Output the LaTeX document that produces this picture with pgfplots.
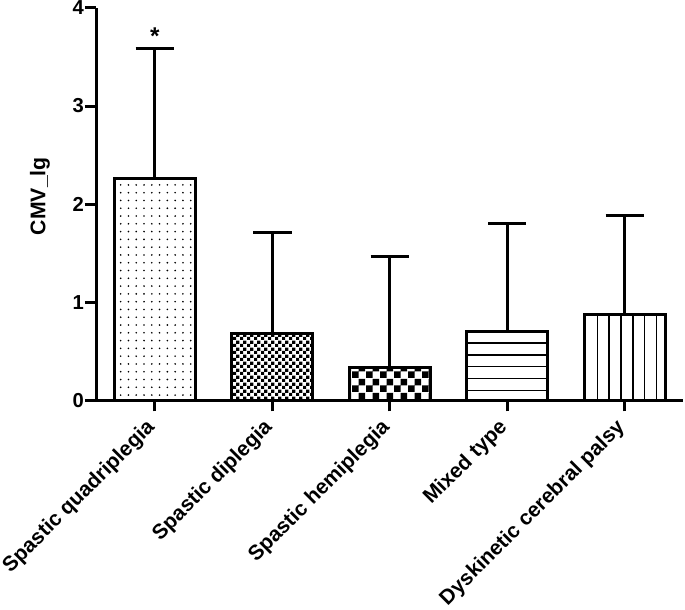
\documentclass[border=0pt]{standalone}
\usepackage{pgfplots}
\pgfplotsset{compat=1.18}
\usepackage{fontspec}
\setmainfont{Liberation Sans}
\usetikzlibrary{patterns}
\pgfdeclarepatternformonly{mydots}{\pgfqpoint{-1pt}{-1pt}}{\pgfqpoint{8.7pt}{8.7pt}}{\pgfqpoint{7.7pt}{7.7pt}}{\pgfpathcircle{\pgfqpoint{3.85pt}{3.85pt}}{0.9pt}\pgfusepath{fill}}
\pgfdeclarepatternformonly{finechecker}{\pgfpointorigin}{\pgfqpoint{6.6pt}{6.6pt}}{\pgfqpoint{6.6pt}{6.6pt}}{\pgfpathrectangle{\pgfpointorigin}{\pgfqpoint{3.3pt}{3.3pt}}\pgfpathrectangle{\pgfqpoint{3.3pt}{3.3pt}}{\pgfqpoint{3.3pt}{3.3pt}}\pgfusepath{fill}}
\pgfdeclarepatternformonly{coarsechecker}{\pgfpointorigin}{\pgfqpoint{13.4pt}{13.4pt}}{\pgfqpoint{13.4pt}{13.4pt}}{\pgfpathrectangle{\pgfpointorigin}{\pgfqpoint{6.7pt}{6.7pt}}\pgfpathrectangle{\pgfqpoint{6.7pt}{6.7pt}}{\pgfqpoint{6.7pt}{6.7pt}}\pgfusepath{fill}}
\pgfdeclarepatternformonly{myhlines}{\pgfqpoint{-1pt}{0pt}}{\pgfqpoint{11pt}{11.7pt}}{\pgfqpoint{10pt}{11.7pt}}{\pgfpathrectangle{\pgfqpoint{-1pt}{5.15pt}}{\pgfqpoint{12pt}{1.4pt}}\pgfusepath{fill}}
\pgfdeclarepatternformonly{myvlines}{\pgfqpoint{0pt}{-1pt}}{\pgfqpoint{11.7pt}{11pt}}{\pgfqpoint{11.7pt}{10pt}}{\pgfpathrectangle{\pgfqpoint{5.15pt}{-1pt}}{\pgfqpoint{1.4pt}{12pt}}\pgfusepath{fill}}
\begin{document}
\begin{tikzpicture}
\begin{axis}[
  scale only axis,
  width=581pt, height=388pt,
  xmin=-0.5, xmax=4.5, ymin=0, ymax=4,
  axis x line=bottom, axis y line=left,
  axis line style={line width=3pt, -},
  xtick={0,1,2,3,4},
  xticklabels={Spastic quadriplegia,Spastic diplegia,Spastic hemiplegia,Mixed type,Dyskinetic cerebral palsy},
  ytick={0,1,2,3,4},
  tick style={line width=3pt, black},
  tick align=outside,
  major tick length=11pt,
  /pgf/number format/assume math mode=true,
  yticklabel style={font=\fontsize{20}{22}\selectfont\bfseries, inner sep=1pt},
  xticklabel style={font=\fontsize{20.7}{22}\selectfont\bfseries, xshift=-10pt, yshift=-6pt, rotate=45, anchor=north east, inner sep=0pt},
  ylabel={CMV\_lg},
  every axis y label/.style={at={(axis description cs:-0.0785,0.52)}, rotate=90, anchor=south, inner sep=0pt, font=\fontsize{21}{23}\selectfont\bfseries},
  every axis plot/.append style={ybar, bar width=80pt, bar shift=0pt, draw=black, line width=3pt},
  error bars/error bar style={line width=3pt, black},
  error bars/error mark options={rotate=90, mark size=19pt, line width=3pt, black},
  clip=false,
]
\addplot[pattern=mydots, error bars/.cd, y dir=plus, y explicit] coordinates {(0,2.26) +- (0,1.33)};
\addplot[pattern=finechecker, error bars/.cd, y dir=plus, y explicit] coordinates {(1,0.68) +- (0,1.03)};
\addplot[pattern=coarsechecker, error bars/.cd, y dir=plus, y explicit] coordinates {(2,0.33) +- (0,1.14)};
\addplot[pattern=myhlines, error bars/.cd, y dir=plus, y explicit] coordinates {(3,0.70) +- (0,1.10)};
\addplot[pattern=myvlines, error bars/.cd, y dir=plus, y explicit] coordinates {(4,0.87) +- (0,1.01)};
\node[font=\fontsize{24}{26}\selectfont\bfseries, anchor=south, inner sep=0pt] at (axis cs:0,3.63) {*};
\end{axis}
\end{tikzpicture}
\end{document}
